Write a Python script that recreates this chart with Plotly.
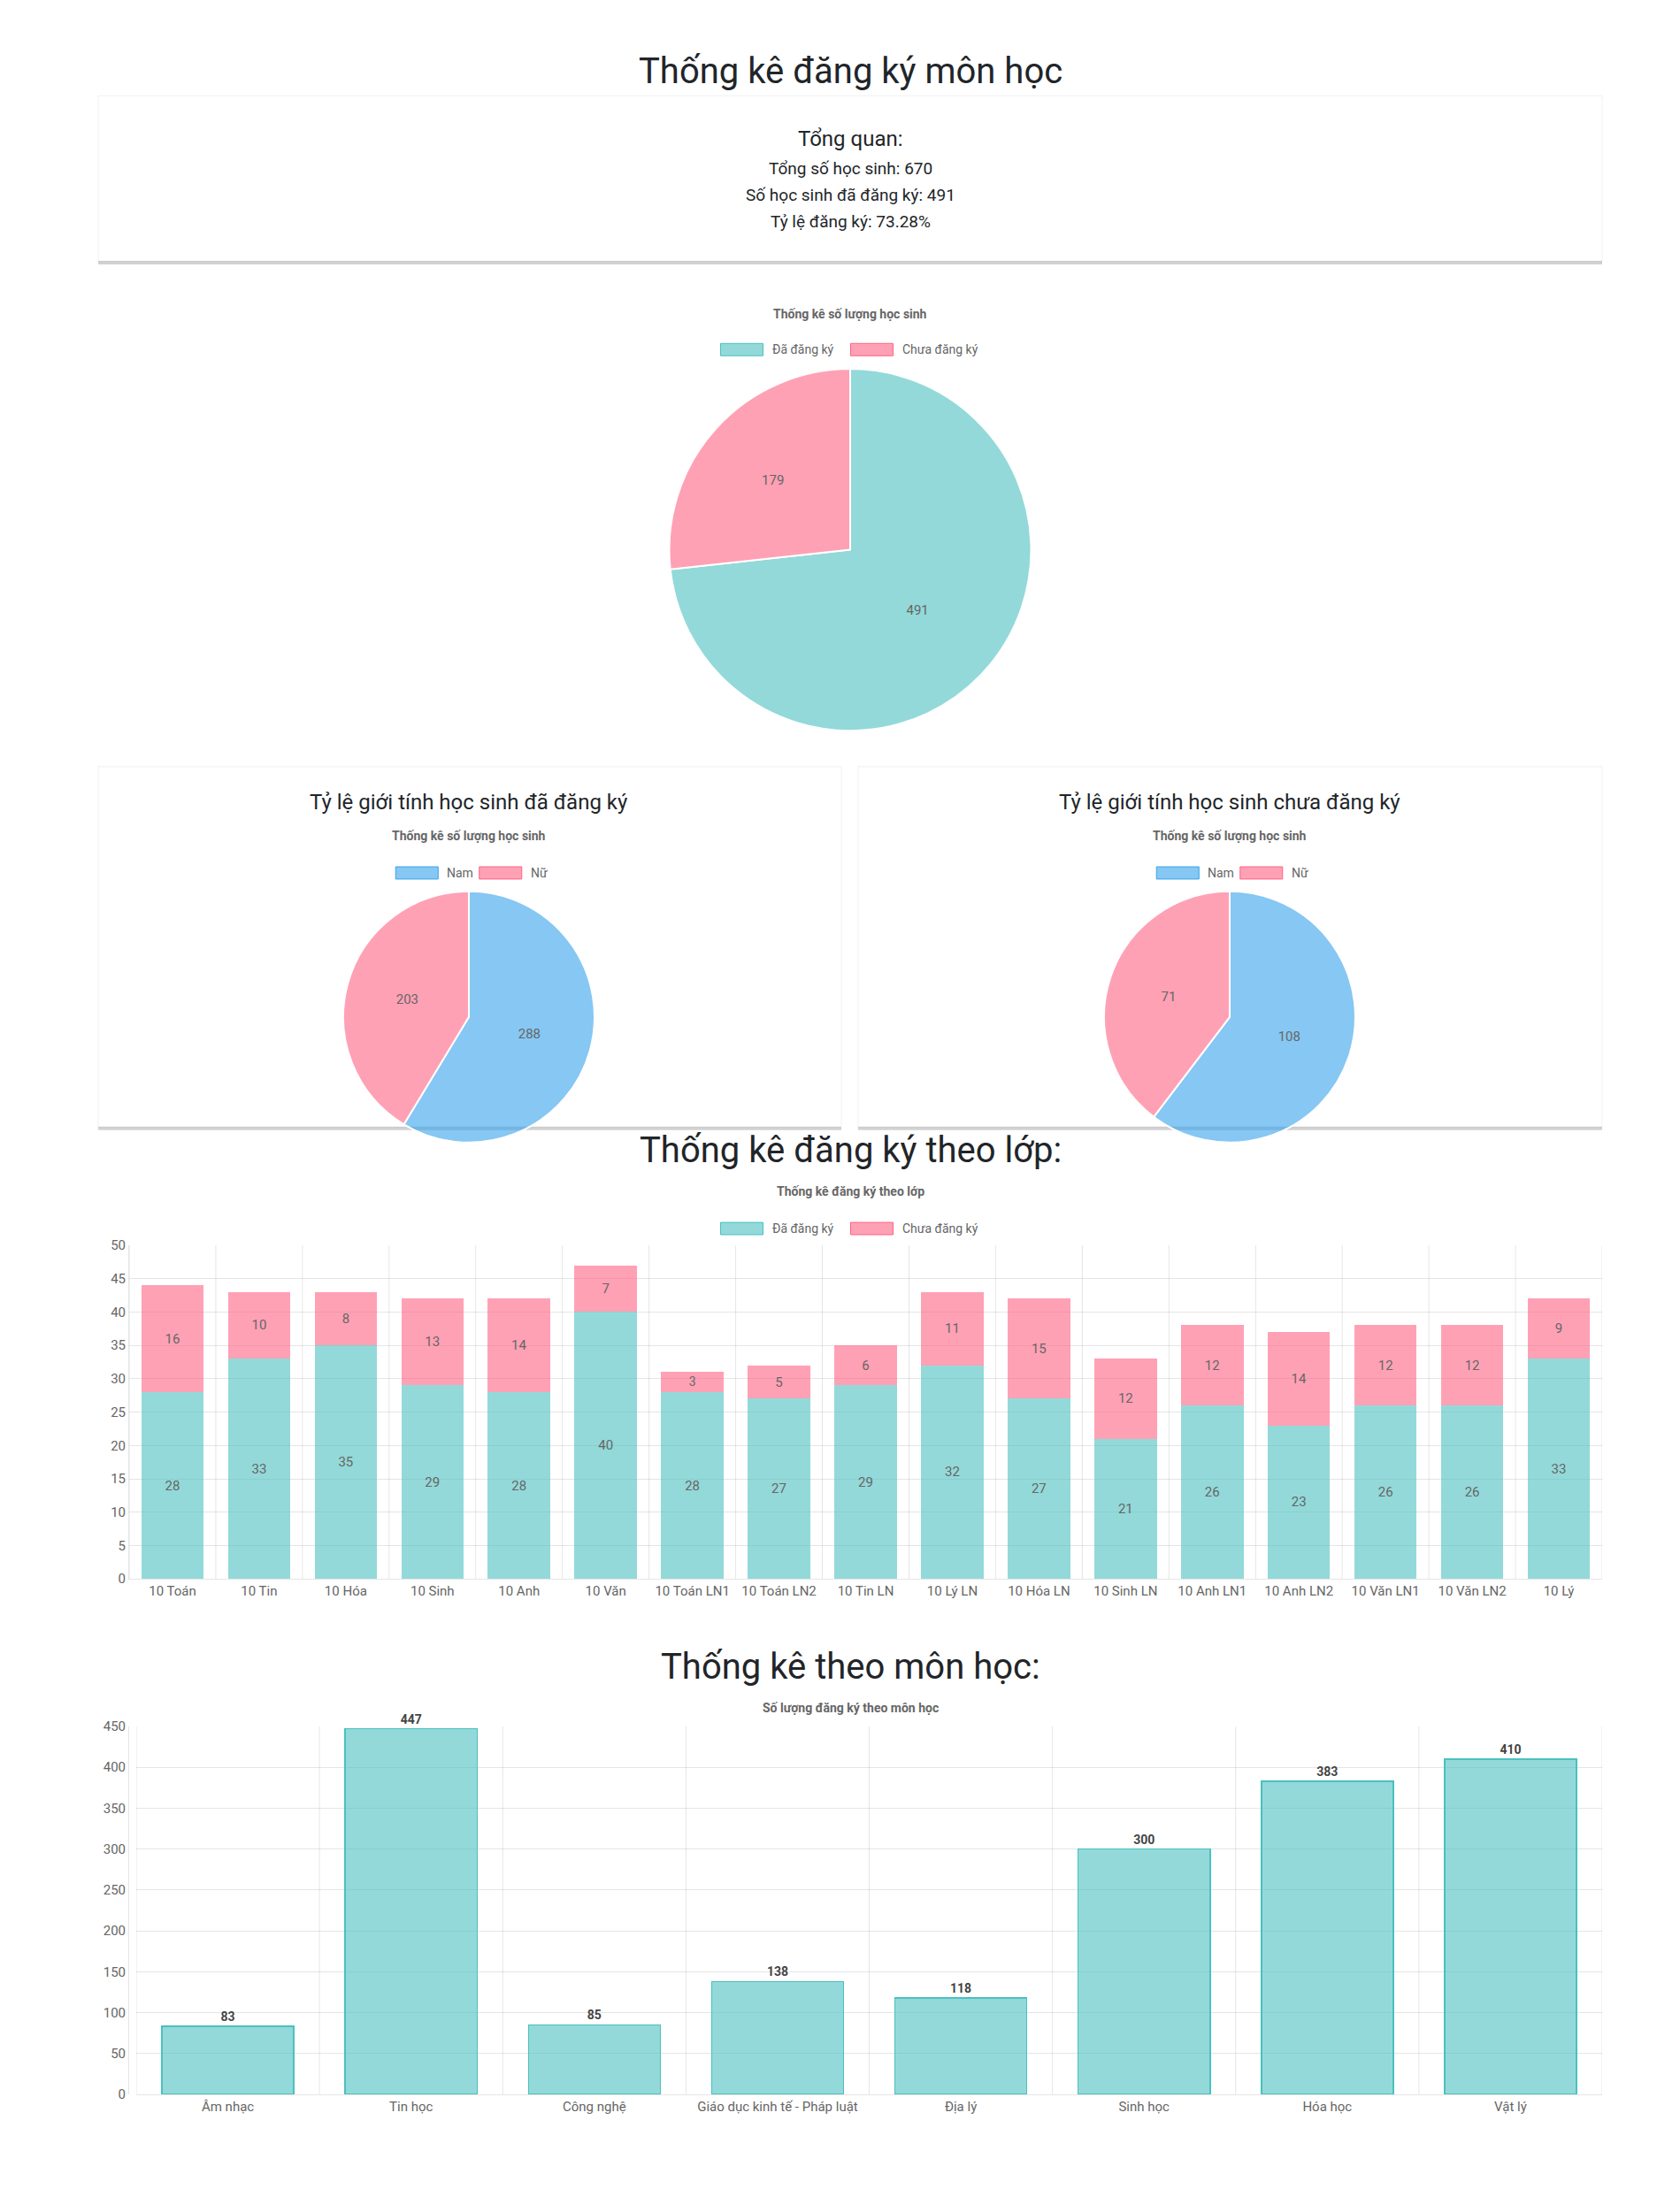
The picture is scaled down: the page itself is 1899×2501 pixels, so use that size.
import plotly.graph_objects as go

W, H = 1899, 2501
reg_labels = ["Đã đăng ký", "Chưa đăng ký"]
reg_values = [491, 179]
gender_labels = ["Nam", "Nữ"]
gender_reg = [288, 203]
gender_unreg = [108, 71]
classes = ["10 Toán", "10 Tin", "10 Hóa", "10 Sinh", "10 Anh", "10 Văn", "10 Toán LN1", "10 Toán LN2",
           "10 Tin LN", "10 Lý LN", "10 Hóa LN", "10 Sinh LN", "10 Anh LN1", "10 Anh LN2", "10 Văn LN1",
           "10 Văn LN2", "10 Lý"]
class_reg = [28, 33, 35, 29, 28, 40, 28, 27, 29, 32, 27, 21, 26, 23, 26, 26, 33]
class_unreg = [16, 10, 8, 13, 14, 7, 3, 5, 6, 11, 15, 12, 12, 14, 12, 12, 9]
subjects = ["Âm nhạc", "Tin học", "Công nghệ", "Giáo dục kinh tế - Pháp luật", "Địa lý", "Sinh học", "Hóa học", "Vật lý"]
subject_vals = [83, 447, 85, 138, 118, 300, 383, 410]

TEAL = "rgba(75,192,192,0.6)"
PINK = "rgba(255,99,132,0.6)"
BLUE = "rgba(54,162,235,0.6)"
FONT = "Roboto"
GRAY = "#666"

def px(x): return x / W
def py(y): return 1 - y / H

fig = go.Figure()

def pie(vals, labels, colors, cx, cy, r):
    fig.add_trace(go.Pie(values=vals, labels=labels, sort=False, direction="clockwise", rotation=0,
                         marker=dict(colors=colors, line=dict(color="white", width=2)),
                         textinfo="value", textposition="inside", insidetextorientation="horizontal",
                         textfont=dict(color=GRAY, size=15, family=FONT), showlegend=False,
                         domain=dict(x=[px(cx - r), px(cx + r)], y=[py(cy + r), py(cy - r)])))

pie(reg_values, reg_labels, [TEAL, PINK], 953, 609, 206)
pie(gender_reg, gender_labels, [BLUE, PINK], 522, 1141, 143)
pie(gender_unreg, gender_labels, [BLUE, PINK], 1382, 1141, 143)

# class stacked bars
fig.add_trace(go.Bar(x=classes, y=class_reg, marker=dict(color=TEAL, line=dict(width=0)), text=class_reg,
                     textposition="inside", insidetextanchor="middle", textangle=0,
                     textfont=dict(color=GRAY, size=15, family=FONT), width=0.72, showlegend=False,
                     xaxis="x", yaxis="y"))
fig.add_trace(go.Bar(x=classes, y=class_unreg, marker=dict(color=PINK, line=dict(width=0)), text=class_unreg,
                     textposition="inside", insidetextanchor="middle", textangle=0,
                     textfont=dict(color=GRAY, size=15, family=FONT), width=0.72, showlegend=False,
                     xaxis="x", yaxis="y"))
fig.add_trace(go.Bar(x=subjects, y=subject_vals, marker=dict(color=TEAL, line=dict(color="rgba(75,192,192,1)", width=1.5)),
                     text=subject_vals, textposition="outside", textangle=0, cliponaxis=False,
                     textfont=dict(color="#444", size=14, family=FONT, weight="bold"), width=0.72,
                     showlegend=False, xaxis="x2", yaxis="y2"))

grid = "rgba(0,0,0,0.1)"
ax = dict(showgrid=False, zeroline=False, tickfont=dict(size=15, color=GRAY, family=FONT), ticks="",
          showline=True, linecolor=grid, fixedrange=True)
fig.update_layout(
    width=W, height=H, margin=dict(l=0, r=0, t=0, b=0), paper_bgcolor="white", plot_bgcolor="white",
    barmode="stack", bargap=0.28,
    xaxis=dict(ax, domain=[px(138), px(1803)], anchor="y", range=[-0.5, 16.5]),
    yaxis=dict(ax, domain=[py(1781), py(1401)], range=[0, 50], dtick=5, showgrid=True, gridcolor=grid),
    xaxis2=dict(ax, domain=[px(146), px(1803)], anchor="y2", range=[-0.5, 7.5]),
    yaxis2=dict(ax, domain=[py(2368), py(1949)], range=[0, 450], dtick=50, showgrid=True, gridcolor=grid),
    font=dict(family=FONT),
)

shapes = []
# cards with shadow
for (x0, y0, x1, y1) in [(103, 92, 1803, 280), (103, 856, 943, 1266), (962, 856, 1803, 1266)]:
    shapes.append(dict(type="rect", xref="paper", yref="paper", x0=px(x0), x1=px(x1), y0=py(y1 + 4), y1=py(y0 + 2),
                       fillcolor="rgba(0,0,0,0.18)", line=dict(width=0), layer="below"))
    shapes.append(dict(type="rect", xref="paper", yref="paper", x0=px(x0), x1=px(x1), y0=py(y1), y1=py(y0),
                       fillcolor="white", line=dict(color="rgba(0,0,0,0.06)", width=1), layer="below"))
for i in range(len(classes)):
    shapes.append(dict(type="line", xref="x", yref="y", x0=i - 0.5, x1=i - 0.5, y0=0, y1=50,
                       line=dict(color=grid, width=1), layer="below"))
shapes.append(dict(type="line", xref="x", yref="y", x0=16.5, x1=16.5, y0=0, y1=50, line=dict(color=grid, width=1), layer="below"))
for i in range(len(subjects)):
    shapes.append(dict(type="line", xref="x2", yref="y2", x0=i - 0.5, x1=i - 0.5, y0=0, y1=450,
                       line=dict(color=grid, width=1), layer="below"))
shapes.append(dict(type="line", xref="x2", yref="y2", x0=7.5, x1=7.5, y0=0, y1=450, line=dict(color=grid, width=1), layer="below"))

ann = []
def text(t, x, y, size, color="#212529", bold=False, xanchor="center"):
    ann.append(dict(text=t, x=px(x), y=py(y), xref="paper", yref="paper", showarrow=False, xanchor=xanchor,
                    yanchor="middle", font=dict(size=size, color=color, family=FONT, weight="bold" if bold else "normal")))

def legend(items, cx, y):
    # items: (label, color)
    widths = [48 + 8 + len(l) * 7.5 for l, _ in items]
    total = sum(widths) + 16 * (len(items) - 1)
    x = cx - total / 2
    for (l, c), w in zip(items, widths):
        shapes.append(dict(type="rect", xref="paper", yref="paper", x0=px(x), x1=px(x + 48), y0=py(y + 7), y1=py(y - 7),
                           fillcolor=c, line=dict(color=c.replace("0.6", "1"), width=1)))
        text(l, x + 56, y, 14, GRAY, xanchor="left")
        x += w + 16

text("Thống kê đăng ký môn học", 953, 64, 40)
text("Tổng quan:", 953, 141, 24)
text("Tổng số học sinh: 670", 953, 175, 19)
text("Số học sinh đã đăng ký: 491", 953, 205, 19)
text("Tỷ lệ đăng ký: 73.28%", 953, 235, 19)

text("Thống kê số lượng học sinh", 953, 340, 14, GRAY, True)
legend([("Đã đăng ký", TEAL), ("Chưa đăng ký", PINK)], 953, 381)

for cx, t in [(522, "Tỷ lệ giới tính học sinh đã đăng ký"), (1382, "Tỷ lệ giới tính học sinh chưa đăng ký")]:
    text(t, cx, 896, 24)
    text("Thống kê số lượng học sinh", cx, 935, 14, GRAY, True)
    legend([("Nam", BLUE), ("Nữ", PINK)], cx, 977)

text("Thống kê đăng ký theo lớp:", 953, 1293, 40)
text("Thống kê đăng ký theo lớp", 953, 1340, 14, GRAY, True)
legend([("Đã đăng ký", TEAL), ("Chưa đăng ký", PINK)], 953, 1382)

text("Thống kê theo môn học:", 953, 1881, 40)
text("Số lượng đăng ký theo môn học", 953, 1928, 14, GRAY, True)

fig.update_layout(shapes=shapes, annotations=ann)
fig.write_html("out.html")
